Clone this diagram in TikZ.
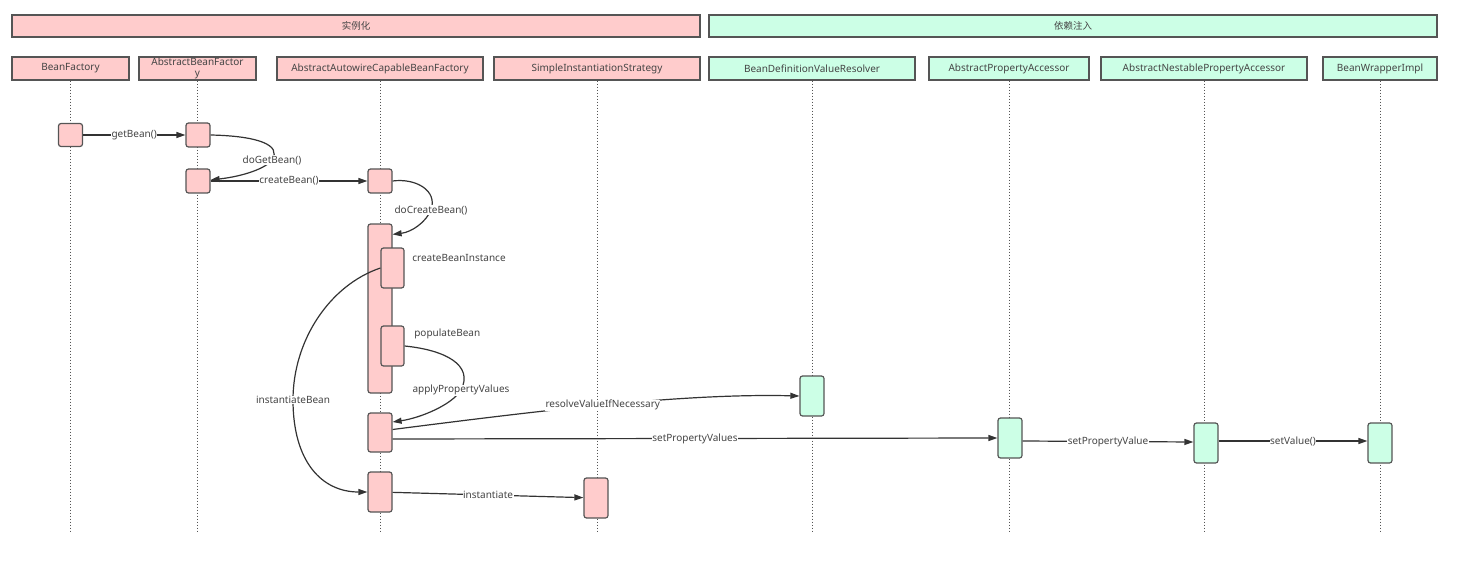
\documentclass[tikz,border=0pt]{standalone}
\usepackage{fontspec}
\setmainfont{Noto Sans}
\newfontfamily\cjk{Noto Sans CJK SC}
\usetikzlibrary{positioning,arrows.meta}
\definecolor{pinkfill}{HTML}{FFCCCC}
\definecolor{mintfill}{HTML}{CCFFE6}
\definecolor{edgegray}{HTML}{555555}
\definecolor{textgray}{HTML}{444444}
\tikzset{
  band node/.style={draw=edgegray,line width=1.2pt,minimum height=22pt,inner sep=0pt,font=\cjk\fontsize{9.5}{10}\selectfont,text=textgray},
  head node/.style={draw=edgegray,line width=1.2pt,minimum height=23pt,inner sep=0pt,align=center,font=\fontsize{10}{11}\selectfont,text=textgray},
  act node/.style={draw=edgegray,line width=1.2pt,rounded corners=2.5pt,minimum width=24pt,inner sep=0pt},
  inst/.style={fill=pinkfill},
  dep/.style={fill=mintfill},
  life line/.style={dotted,line width=1pt,draw=edgegray},
  msg/.style={line width=1.2pt,draw=black!80,-{Triangle[length=9pt,width=6pt]}},
  lbl/.style={fill=white,inner sep=0.5pt,font=\fontsize{10}{11}\selectfont,text=textgray},
}

\begin{document}
\begin{tikzpicture}[x=1pt,y=-1pt]
  \useasboundingbox (0,0) rectangle (1460,575);

  % phases
  \node[band node,inst,minimum width=688pt] (phase1) at (356,26) {实例化};
  \node[band node,dep,minimum width=728pt] (phase2) at (1073,26) {依赖注入};

  % classes
  \node[head node,inst,minimum width=117pt] (bf) at (70.5,68.5) {BeanFactory};
  \node[head node,inst,minimum width=117pt] (abf) at (197.5,68.5) {AbstractBeanFactor\\y};
  \node[head node,inst,minimum width=206pt] (aacbf) at (380,68.5) {AbstractAutowireCapableBeanFactory};
  \node[head node,inst,minimum width=206pt] (sis) at (597,68.5) {SimpleInstantiationStrategy};
  \node[head node,dep,minimum width=206pt] (bdvr) at (812,68.5) {BeanDefinitionValueResolver};
  \node[head node,dep,minimum width=160pt] (apa) at (1009,68.5) {AbstractPropertyAccessor};
  \node[head node,dep,minimum width=206pt] (anpa) at (1204,68.5) {AbstractNestablePropertyAccessor};
  \node[head node,dep,minimum width=114pt] (bwi) at (1380,68.5) {BeanWrapperImpl};

  \coordinate (bottom) at (0,533);
  \foreach \h in {bf,abf,aacbf,sis,bdvr,apa,anpa,bwi}
    \draw[life line] (\h.south) -- (\h.south |- bottom);

  % activations
  \node[act node,inst,minimum height=23pt] (bf1) at (70.5,135) {};
  \node[act node,inst,minimum height=24pt] (ab1) at (198,135) {};
  \node[act node,inst,minimum height=24pt] (ab2) at (198,181) {};
  \node[act node,inst,minimum height=24pt] (ac1) at (380,181) {};
  \node[act node,inst,minimum height=169pt] (ac2) at (380,308.5) {};
  \node[act node,inst,minimum width=23pt,minimum height=40pt] (ac3) at (392.5,268) {};
  \node[act node,inst,minimum width=23pt,minimum height=40pt] (ac4) at (392.5,346) {};
  \node[act node,inst,minimum height=39pt] (ac5) at (380,432.5) {};
  \node[act node,inst,minimum height=40pt] (ac6) at (380,492) {};
  \node[act node,inst,minimum height=40pt] (si1) at (596,498) {};
  \node[act node,dep,minimum height=40pt] (bd1) at (812,396) {};
  \node[act node,dep,minimum height=40pt] (ap1) at (1010,438) {};
  \node[act node,dep,minimum height=40pt] (an1) at (1206,443) {};
  \node[act node,dep,minimum height=40pt] (bw1) at (1380,443) {};

  \node[lbl,anchor=west] (cbi) at ([xshift=7pt,yshift=-11pt]ac3.north east) {createBeanInstance};
  \node[lbl,anchor=west] (pb) at ([xshift=9pt,yshift=-8pt]ac4.north east) {populateBean};

  % calls
  \draw[msg] (bf1) -- node[lbl] {getBean()} (ab1);
  \draw[msg] (ab1.east) .. controls (258,136) and (282,145) .. (272,160) node[lbl] {doGetBean()}
    .. controls (266,168) and (245,176) .. ([yshift=1pt]ab2.east);
  \draw[msg] (ab2) -- node[lbl] {createBean()} (ac1);
  \draw[msg] (ac1.east) .. controls (415,178) and (438,190) .. (431,210) node[lbl] {doCreateBean()}
    .. controls (426,222) and (412,232) .. ([yshift=-11pt]ac2.north east);
  \draw[msg] (ac3.west) .. controls (330,285) and (293,340) .. (293,400) node[lbl] {instantiateBean}
    .. controls (293,462) and (322,492) .. (ac6.west);
  \draw[msg] (ac4.east) .. controls (445,350) and (474,365) .. (461,390) node[lbl] {applyPropertyValues}
    .. controls (452,405) and (420,418) .. ([yshift=10.5pt]ac5.east);
  \draw[msg] ([yshift=3pt]ac5.east) .. controls (530,412) and (680,393) .. (bd1.west)
    node[lbl,pos=0.5] {resolveValueIfNecessary};
  \draw[msg] ([yshift=-6.5pt]ac5.east) -- node[lbl] {setPropertyValues} (ap1.west);
  \draw[msg] ([yshift=-3pt]ap1.east) -- node[lbl] {setPropertyValue} ([yshift=1pt]an1.west);
  \draw[msg] ([yshift=2pt]an1.east) -- node[lbl] {setValue()} ([yshift=2pt]bw1.west);
  \draw[msg] (ac6) -- node[lbl] {instantiate} (si1);
\end{tikzpicture}
\end{document}
